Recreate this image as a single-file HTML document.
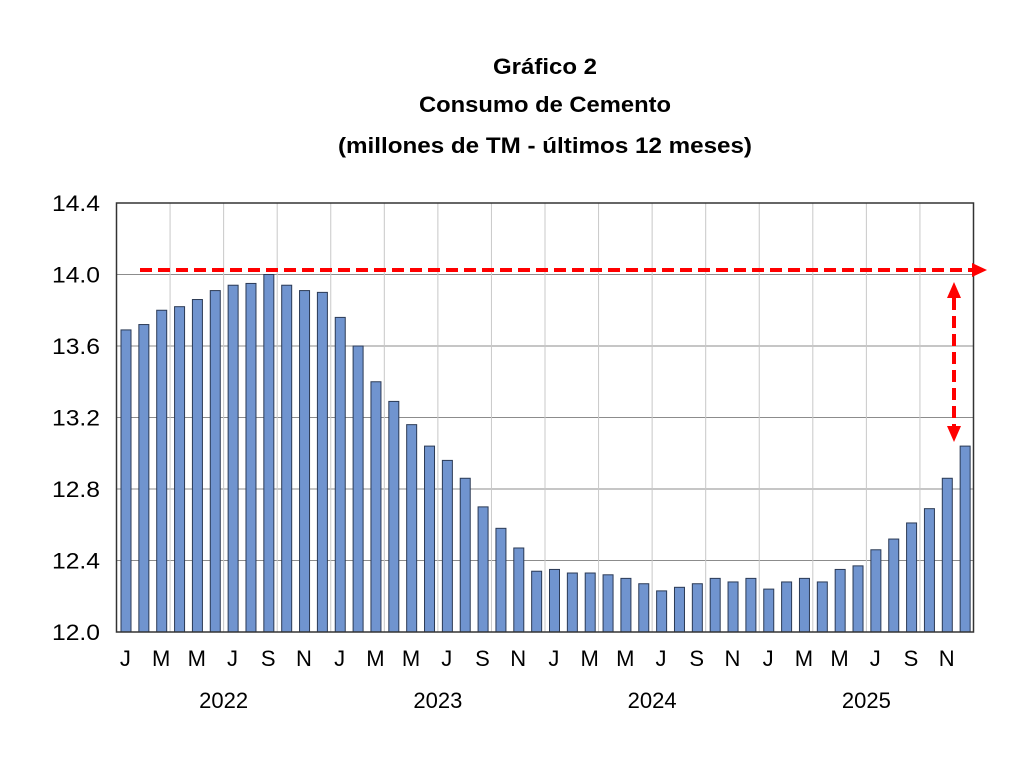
<!DOCTYPE html>
<html><head><meta charset="utf-8"><style>
html,body{margin:0;padding:0;background:#fff;}
svg{display:block;font-family:"Liberation Sans",sans-serif;}
</style></head><body>
<svg id="s" width="1024" height="768" viewBox="0 0 1024 768" xmlns="http://www.w3.org/2000/svg">
<rect width="1024" height="768" fill="#fff"/>
<g font-weight="bold" font-size="22" text-anchor="middle" fill="#000">
<text x="545" y="74" textLength="104" lengthAdjust="spacingAndGlyphs">Gráfico 2</text>
<text x="545" y="112" textLength="252" lengthAdjust="spacingAndGlyphs">Consumo de Cemento</text>
<text x="545" y="153" textLength="414" lengthAdjust="spacingAndGlyphs">(millones de TM - últimos 12 meses)</text>
</g>
<g id="grid"></g>
<g id="bars"></g>
<rect x="116.5" y="203" width="857" height="429" fill="none" stroke="#333" stroke-width="1.5"/>
<g font-size="22" fill="#000" text-anchor="end" id="yl"></g>
<g font-size="22" fill="#000" text-anchor="middle" id="xl"></g>
<g stroke="#f00" stroke-width="4" stroke-dasharray="12,6" fill="none">
<line x1="140" y1="270" x2="972" y2="270"/>
<line x1="954" y1="298" x2="954" y2="426"/>
</g>
<g fill="#f00">
<polygon points="972,263 987,270 972,277"/>
<polygon points="947,298 954,282 961,298"/>
<polygon points="947,426 954,442 961,426"/>
</g>
</svg>
<script>
var v=[13.69,13.72,13.80,13.82,13.86,13.91,13.94,13.95,14.00,13.94,13.91,13.90,13.76,13.60,13.40,13.29,13.16,13.04,12.96,12.86,12.70,12.58,12.47,12.34,12.35,12.33,12.33,12.32,12.30,12.27,12.23,12.25,12.27,12.30,12.28,12.30,12.24,12.28,12.30,12.28,12.35,12.37,12.46,12.52,12.61,12.69,12.86,13.04];
var NS="http://www.w3.org/2000/svg";
function el(p,t,a,txt){var e=document.createElementNS(NS,t);for(var k in a)e.setAttribute(k,a[k]);if(txt)e.textContent=txt;document.getElementById(p).appendChild(e);}
var L=116.5,W=857/48,B=632,S=429/2.4;
for(var i=1;i<6;i++){var y=B-i*0.4*S;el("grid","line",{x1:L,x2:973.5,y1:y,y2:y,stroke:"#8c8c8c","stroke-width":1});}
for(var i=3;i<48;i+=3){var x=L+i*W;el("grid","line",{x1:x,x2:x,y1:203,y2:632,stroke:"#c8c8c8","stroke-width":1});}
for(var i=0;i<48;i++){var x=L+i*W+4.5,y=B-(v[i]-12)*S;el("bars","rect",{x:x,y:y,width:10,height:B-y,fill:"#7094cf",stroke:"#2b3a55","stroke-width":1});}
for(var i=0;i<7;i++){el("yl","text",{x:100,y:B-i*0.4*S+8,textLength:48,lengthAdjust:"spacingAndGlyphs"},(12+i*0.4).toFixed(1));}
var m=["J","M","M","J","S","N"];
for(var i=0;i<48;i+=2){el("xl","text",{x:L+i*W+W/2,y:666},m[(i/2)%6]);}
var yr=["2022","2023","2024","2025"];
for(var i=0;i<4;i++){el("xl","text",{x:L+(i*12+6)*W,y:708},yr[i]);}
</script>
</body></html>
